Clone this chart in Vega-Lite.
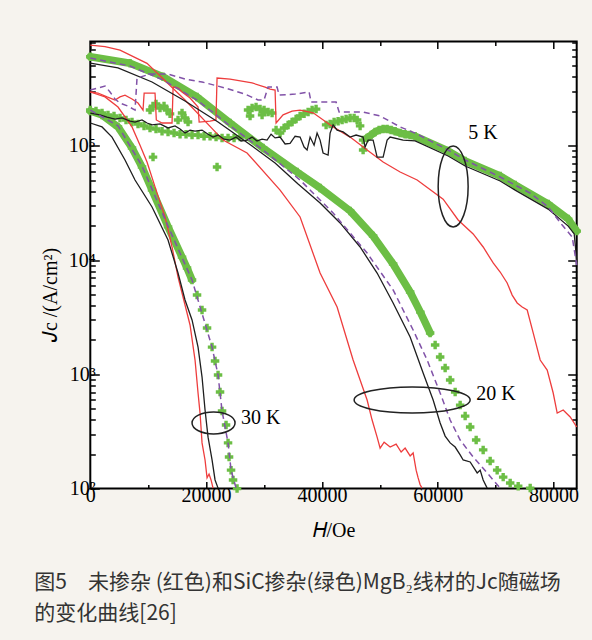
{
  "$schema": "https://vega.github.io/schema/vega-lite/v6.json",
  "width": 486.4,
  "height": 447.1,
  "autosize": {"type": "none"},
  "padding": {"left": 90.3, "top": 41.5, "right": 15.3, "bottom": 151.4},
  "background": "#f6f3ee",
  "config": {
    "view": {"fill": "white", "stroke": "black", "strokeWidth": 2}
  },
  "title": {
    "text": ["图5　未掺杂 (红色)和SiC掺杂(绿色)MgB₂线材的Jc随磁场", "的变化曲线[26]"],
    "orient": "bottom", "anchor": "start", "frame": "bounds",
    "font": "Noto Sans CJK SC", "fontSize": 21, "fontWeight": "normal", "color": "#333333",
    "lineHeight": 31, "offset": 31, "dx": -6
  },
  "datasets": {
    "lines": [
      {"c":"r","T":20,"H":0,"J":760000},{"c":"r","T":20,"H":2540,"J":735000},{"c":"r","T":20,"H":5131,"J":687000},{"c":"r","T":20,"H":9796,"J":526000},{"c":"r","T":20,"H":16361,"J":251000},{"c":"r","T":20,"H":22927,"J":112000},{"c":"r","T":20,"H":27073,"J":86300},{"c":"r","T":20,"H":32775,"J":40900},{"c":"r","T":20,"H":36230,"J":23800},{"c":"r","T":20,"H":39685,"J":7690},{"c":"r","T":20,"H":42623,"J":3880},{"c":"r","T":20,"H":45387,"J":1333},{"c":"r","T":20,"H":47805,"J":596},{"c":"r","T":20,"H":48669,"J":398},{"c":"r","T":20,"H":49533,"J":282},{"c":"r","T":20,"H":50051,"J":226},{"c":"r","T":20,"H":50742,"J":255},{"c":"r","T":20,"H":51779,"J":231},{"c":"r","T":20,"H":52816,"J":245},{"c":"r","T":20,"H":53680,"J":209},{"c":"r","T":20,"H":54371,"J":226},{"c":"r","T":20,"H":55235,"J":193},{"c":"r","T":20,"H":55753,"J":205},{"c":"r","T":20,"H":56271,"J":145},{"c":"r","T":20,"H":56617,"J":124},{"c":"r","T":20,"H":56963,"J":108},{"c":"r","T":20,"H":57308,"J":101},
      {"c":"r","T":5,"H":0,"J":295000},{"c":"r","T":5,"H":1330,"J":289000},{"c":"r","T":5,"H":2885,"J":267000},{"c":"r","T":5,"H":4267,"J":251000},{"c":"r","T":5,"H":5131,"J":267000},{"c":"r","T":5,"H":5995,"J":277000},{"c":"r","T":5,"H":7205,"J":256000},{"c":"r","T":5,"H":8241,"J":236000},{"c":"r","T":5,"H":9105,"J":205000},{"c":"r","T":5,"H":9300,"J":289000},{"c":"r","T":5,"H":11178,"J":289000},{"c":"r","T":5,"H":11400,"J":168000},{"c":"r","T":5,"H":12388,"J":158000},{"c":"r","T":5,"H":14115,"J":158000},{"c":"r","T":5,"H":14300,"J":326000},{"c":"r","T":5,"H":15152,"J":320000},{"c":"r","T":5,"H":15843,"J":295000},{"c":"r","T":5,"H":17225,"J":261000},{"c":"r","T":5,"H":18607,"J":218000},{"c":"r","T":5,"H":18800,"J":161000},{"c":"r","T":5,"H":20681,"J":164000},{"c":"r","T":5,"H":21700,"J":168000},{"c":"r","T":5,"H":21890,"J":391000},{"c":"r","T":5,"H":24136,"J":383000},{"c":"r","T":5,"H":27937,"J":354000},{"c":"r","T":5,"H":30183,"J":326000},{"c":"r","T":5,"H":31047,"J":313000},{"c":"r","T":5,"H":31911,"J":307000},{"c":"r","T":5,"H":32083,"J":158000},{"c":"r","T":5,"H":33293,"J":186000},{"c":"r","T":5,"H":34848,"J":201000},{"c":"r","T":5,"H":36230,"J":205000},{"c":"r","T":5,"H":38476,"J":194000},{"c":"r","T":5,"H":41931,"J":146000},{"c":"r","T":5,"H":44868,"J":119000},{"c":"r","T":5,"H":47805,"J":91600},{"c":"r","T":5,"H":50570,"J":71900},{"c":"r","T":5,"H":53507,"J":58900},{"c":"r","T":5,"H":56444,"J":50100},{"c":"r","T":5,"H":60936,"J":34100},{"c":"r","T":5,"H":63527,"J":22400},{"c":"r","T":5,"H":66119,"J":16900},{"c":"r","T":5,"H":67847,"J":13000},{"c":"r","T":5,"H":69575,"J":9420},{"c":"r","T":5,"H":70784,"J":7850},{"c":"r","T":5,"H":71993,"J":6290},{"c":"r","T":5,"H":72857,"J":4930},{"c":"r","T":5,"H":73721,"J":4210},{"c":"r","T":5,"H":74585,"J":3880},{"c":"r","T":5,"H":75449,"J":3650},{"c":"r","T":5,"H":76486,"J":2300},{"c":"r","T":5,"H":77695,"J":1333},{"c":"r","T":5,"H":78905,"J":1090},{"c":"r","T":5,"H":79941,"J":686},{"c":"r","T":5,"H":80632,"J":458},{"c":"r","T":5,"H":81669,"J":487},{"c":"r","T":5,"H":82878,"J":423},{"c":"r","T":5,"H":84000,"J":346},
      {"c":"r","T":30,"H":0,"J":295000},{"c":"r","T":30,"H":2540,"J":267000},{"c":"r","T":30,"H":4786,"J":218000},{"c":"r","T":30,"H":7205,"J":146000},{"c":"r","T":30,"H":8587,"J":101000},{"c":"r","T":30,"H":9796,"J":71900},{"c":"r","T":30,"H":11178,"J":43600},{"c":"r","T":30,"H":12906,"J":23800},{"c":"r","T":30,"H":14115,"J":13000},{"c":"r","T":30,"H":15152,"J":7100},{"c":"r","T":30,"H":16361,"J":4040},{"c":"r","T":30,"H":17225,"J":2700},{"c":"r","T":30,"H":18089,"J":1333},{"c":"r","T":30,"H":18607,"J":686},{"c":"r","T":30,"H":18953,"J":458},{"c":"r","T":30,"H":19298,"J":251},{"c":"r","T":30,"H":19817,"J":178},{"c":"r","T":30,"H":20163,"J":124},{"c":"r","T":30,"H":20508,"J":134},{"c":"r","T":30,"H":20854,"J":119},{"c":"r","T":30,"H":21199,"J":101},
      {"c":"k","T":20,"H":0,"J":529000},{"c":"k","T":20,"H":4786,"J":479000},{"c":"k","T":20,"H":10660,"J":361000},{"c":"k","T":20,"H":16361,"J":246000},{"c":"k","T":20,"H":22063,"J":161000},{"c":"k","T":20,"H":27937,"J":99300},{"c":"k","T":20,"H":31911,"J":70600},{"c":"k","T":20,"H":35884,"J":46200},{"c":"k","T":20,"H":39685,"J":31500},{"c":"k","T":20,"H":43140,"J":21100},{"c":"k","T":20,"H":46596,"J":13000},{"c":"k","T":20,"H":49533,"J":7690},{"c":"k","T":20,"H":52298,"J":4210},{"c":"k","T":20,"H":55235,"J":2120},{"c":"k","T":20,"H":57481,"J":1026},{"c":"k","T":20,"H":59209,"J":596},{"c":"k","T":20,"H":60418,"J":375},{"c":"k","T":20,"H":61282,"J":288},{"c":"k","T":20,"H":62146,"J":251},{"c":"k","T":20,"H":63010,"J":231},{"c":"k","T":20,"H":63874,"J":197},{"c":"k","T":20,"H":64392,"J":178},{"c":"k","T":20,"H":65601,"J":171},{"c":"k","T":20,"H":66811,"J":137},{"c":"k","T":20,"H":67329,"J":145},{"c":"k","T":20,"H":67847,"J":119},{"c":"k","T":20,"H":68538,"J":101},
      {"c":"k","T":30,"H":0,"J":158000},{"c":"k","T":30,"H":2022,"J":146000},{"c":"k","T":30,"H":3749,"J":119000},{"c":"k","T":30,"H":5995,"J":75000},{"c":"k","T":30,"H":7723,"J":50100},{"c":"k","T":30,"H":10660,"J":29100},{"c":"k","T":30,"H":13424,"J":14960},{"c":"k","T":30,"H":15152,"J":7690},{"c":"k","T":30,"H":16361,"J":4470},{"c":"k","T":30,"H":17570,"J":2990},{"c":"k","T":30,"H":18607,"J":1730},{"c":"k","T":30,"H":19298,"J":946},{"c":"k","T":30,"H":19817,"J":487},{"c":"k","T":30,"H":20336,"J":282},{"c":"k","T":30,"H":21027,"J":178},{"c":"k","T":30,"H":21545,"J":119},{"c":"k","T":30,"H":22063,"J":101},
      {"c":"k","T":5,"H":0,"J":193000},{"c":"k","T":5,"H":1676,"J":186000},{"c":"k","T":5,"H":2885,"J":178000},{"c":"k","T":5,"H":4267,"J":171000},{"c":"k","T":5,"H":5477,"J":175000},{"c":"k","T":5,"H":6868,"J":164000},{"c":"k","T":5,"H":7723,"J":161000},{"c":"k","T":5,"H":8932,"J":168000},{"c":"k","T":5,"H":9796,"J":158000},{"c":"k","T":5,"H":10660,"J":152000},{"c":"k","T":5,"H":12042,"J":155000},{"c":"k","T":5,"H":13424,"J":143000},{"c":"k","T":5,"H":14633,"J":149000},{"c":"k","T":5,"H":15497,"J":140000},{"c":"k","T":5,"H":16361,"J":129000},{"c":"k","T":5,"H":17225,"J":137000},{"c":"k","T":5,"H":18089,"J":134000},{"c":"k","T":5,"H":19298,"J":137000},{"c":"k","T":5,"H":20336,"J":126000},{"c":"k","T":5,"H":21199,"J":119000},{"c":"k","T":5,"H":22063,"J":124000},{"c":"k","T":5,"H":23099,"J":114000},{"c":"k","T":5,"H":24136,"J":112000},{"c":"k","T":5,"H":25172,"J":119000},{"c":"k","T":5,"H":26036,"J":110000},{"c":"k","T":5,"H":27073,"J":112000},{"c":"k","T":5,"H":27937,"J":119000},{"c":"k","T":5,"H":28800,"J":110000},{"c":"k","T":5,"H":29664,"J":114000},{"c":"k","T":5,"H":30528,"J":112000},{"c":"k","T":5,"H":31220,"J":126000},{"c":"k","T":5,"H":31911,"J":117000},{"c":"k","T":5,"H":32775,"J":119000},{"c":"k","T":5,"H":33638,"J":103500},{"c":"k","T":5,"H":34502,"J":105000},{"c":"k","T":5,"H":35366,"J":121000},{"c":"k","T":5,"H":36230,"J":119000},{"c":"k","T":5,"H":36921,"J":97300},{"c":"k","T":5,"H":37439,"J":91600},{"c":"k","T":5,"H":37957,"J":119000},{"c":"k","T":5,"H":38649,"J":101000},{"c":"k","T":5,"H":39167,"J":129000},{"c":"k","T":5,"H":39685,"J":112000},{"c":"k","T":5,"H":40203,"J":86300},{"c":"k","T":5,"H":41067,"J":82800},{"c":"k","T":5,"H":41413,"J":129000},{"c":"k","T":5,"H":41931,"J":152000},{"c":"k","T":5,"H":42622,"J":137000},{"c":"k","T":5,"H":43659,"J":132000},{"c":"k","T":5,"H":44868,"J":119000},{"c":"k","T":5,"H":45904,"J":124000},{"c":"k","T":5,"H":47114,"J":119000},{"c":"k","T":5,"H":47460,"J":97300},{"c":"k","T":5,"H":47978,"J":112000},{"c":"k","T":5,"H":48842,"J":112000},{"c":"k","T":5,"H":49533,"J":79500},{"c":"k","T":5,"H":50570,"J":79500},{"c":"k","T":5,"H":51261,"J":112000},{"c":"k","T":5,"H":51779,"J":119000},{"c":"k","T":5,"H":54025,"J":112000},{"c":"k","T":5,"H":56099,"J":110000},{"c":"k","T":5,"H":61801,"J":81300},{"c":"k","T":5,"H":64738,"J":66400},{"c":"k","T":5,"H":70784,"J":49100},{"c":"k","T":5,"H":73375,"J":40900},{"c":"k","T":5,"H":79078,"J":27900},{"c":"k","T":5,"H":82533,"J":19800},{"c":"k","T":5,"H":83570,"J":16900},{"c":"k","T":5,"H":84000,"J":10000},
      {"c":"p","T":20,"H":0,"J":585000},{"c":"p","T":20,"H":6868,"J":498000},{"c":"p","T":20,"H":12561,"J":376000},{"c":"p","T":20,"H":18434,"J":251000},{"c":"p","T":20,"H":24136,"J":149000},{"c":"p","T":20,"H":29837,"J":91600},{"c":"p","T":20,"H":36230,"J":50100},{"c":"p","T":20,"H":41931,"J":25800},{"c":"p","T":20,"H":47805,"J":11500},{"c":"p","T":20,"H":52298,"J":5470},{"c":"p","T":20,"H":55753,"J":2440},{"c":"p","T":20,"H":58172,"J":1333},{"c":"p","T":20,"H":60418,"J":686},{"c":"p","T":20,"H":62146,"J":398},{"c":"p","T":20,"H":63874,"J":266},{"c":"p","T":20,"H":66119,"J":189},{"c":"p","T":20,"H":68538,"J":137},{"c":"p","T":20,"H":70784,"J":101},
      {"c":"p","T":30,"H":0,"J":205000},{"c":"p","T":30,"H":4786,"J":149000},{"c":"p","T":30,"H":8932,"J":66400},{"c":"p","T":30,"H":13424,"J":19800},{"c":"p","T":30,"H":17570,"J":6680},{"c":"p","T":30,"H":21027,"J":1730},{"c":"p","T":30,"H":22063,"J":986},{"c":"p","T":30,"H":22754,"J":477},{"c":"p","T":30,"H":23790,"J":251},{"c":"p","T":30,"H":24309,"J":145},{"c":"p","T":30,"H":25172,"J":101},
      {"c":"p","T":5,"H":0,"J":307000},{"c":"p","T":5,"H":1330,"J":320000},{"c":"p","T":5,"H":2540,"J":333000},{"c":"p","T":5,"H":3404,"J":295000},{"c":"p","T":5,"H":4267,"J":256000},{"c":"p","T":5,"H":5131,"J":236000},{"c":"p","T":5,"H":6513,"J":222000},{"c":"p","T":5,"H":7723,"J":205000},{"c":"p","T":5,"H":8068,"J":391000},{"c":"p","T":5,"H":10315,"J":423600},{"c":"p","T":5,"H":13424,"J":423600},{"c":"p","T":5,"H":16361,"J":383000},{"c":"p","T":5,"H":19298,"J":361000},{"c":"p","T":5,"H":23272,"J":320000},{"c":"p","T":5,"H":26727,"J":283000},{"c":"p","T":5,"H":28973,"J":251000},{"c":"p","T":5,"H":30010,"J":251000},{"c":"p","T":5,"H":30701,"J":326000},{"c":"p","T":5,"H":32256,"J":326000},{"c":"p","T":5,"H":32602,"J":277000},{"c":"p","T":5,"H":35366,"J":283000},{"c":"p","T":5,"H":37785,"J":295000},{"c":"p","T":5,"H":38130,"J":241000},{"c":"p","T":5,"H":42449,"J":241000},{"c":"p","T":5,"H":42968,"J":197000},{"c":"p","T":5,"H":47114,"J":197000},{"c":"p","T":5,"H":50051,"J":182000},{"c":"p","T":5,"H":53507,"J":146000},{"c":"p","T":5,"H":56099,"J":129000},{"c":"p","T":5,"H":61801,"J":91600},{"c":"p","T":5,"H":64738,"J":75000},{"c":"p","T":5,"H":70784,"J":53200},{"c":"p","T":5,"H":75968,"J":38500},{"c":"p","T":5,"H":79078,"J":29100},{"c":"p","T":5,"H":81496,"J":20200},{"c":"p","T":5,"H":83224,"J":15900},{"c":"p","T":5,"H":84000,"J":9040}
    ],
    "green": [
      {"T":20,"H":0,"J":601000},{"T":20,"H":6868,"J":526000},{"T":20,"H":12561,"J":402000},{"T":20,"H":18434,"J":267000},{"T":20,"H":24136,"J":158000},{"T":20,"H":29837,"J":95500},{"T":20,"H":35711,"J":58900},{"T":20,"H":39685,"J":42700},{"T":20,"H":44868,"J":26900},{"T":20,"H":48842,"J":16200},{"T":20,"H":52298,"J":9230},{"T":20,"H":55235,"J":5250},{"T":20,"H":57000,"J":3500},{"T":20,"H":58690,"J":2300},{"T":20,"H":59554,"J":1803},{"T":20,"H":60418,"J":1416},{"T":20,"H":61282,"J":1135},{"T":20,"H":62146,"J":891},{"T":20,"H":63010,"J":700},{"T":20,"H":63874,"J":538},{"T":20,"H":64738,"J":431},{"T":20,"H":65601,"J":346},{"T":20,"H":66638,"J":266},{"T":20,"H":67847,"J":218},{"T":20,"H":69057,"J":174},{"T":20,"H":70266,"J":145},{"T":20,"H":71303,"J":126},{"T":20,"H":72512,"J":112},{"T":20,"H":73895,"J":105},{"T":20,"H":75968,"J":101},
      {"T":30,"H":0,"J":201000},{"T":30,"H":2022,"J":186000},{"T":30,"H":4786,"J":146000},{"T":30,"H":7205,"J":95500},{"T":30,"H":8932,"J":65200},{"T":30,"H":10660,"J":40900},{"T":30,"H":13424,"J":19500},{"T":30,"H":15843,"J":10600},{"T":30,"H":16706,"J":8510},{"T":30,"H":17570,"J":6680},{"T":30,"H":18434,"J":4940},{"T":30,"H":19298,"J":3650},{"T":30,"H":20163,"J":2540},{"T":30,"H":21027,"J":1730},{"T":30,"H":21545,"J":1306},{"T":30,"H":22063,"J":986},{"T":30,"H":22408,"J":700},{"T":30,"H":22754,"J":477},{"T":30,"H":23445,"J":360},{"T":30,"H":23790,"J":251},{"T":30,"H":23963,"J":189},{"T":30,"H":24309,"J":145},{"T":30,"H":24654,"J":119},{"T":30,"H":25345,"J":100},
      {"T":5,"H":0,"J":205000},{"T":5,"H":985,"J":201000},{"T":5,"H":2022,"J":193000},{"T":5,"H":3058,"J":186000},{"T":5,"H":4095,"J":182000},{"T":5,"H":5131,"J":175000},{"T":5,"H":6168,"J":168000},{"T":5,"H":7205,"J":161000},{"T":5,"H":8241,"J":155000},{"T":5,"H":9278,"J":149000},{"T":5,"H":10315,"J":143000},{"T":5,"H":11351,"J":140000},{"T":5,"H":12388,"J":134000},{"T":5,"H":13424,"J":132000},{"T":5,"H":14461,"J":129000},{"T":5,"H":15497,"J":126000},{"T":5,"H":16534,"J":126000},{"T":5,"H":17570,"J":124000},{"T":5,"H":18607,"J":124000},{"T":5,"H":19644,"J":121000},{"T":5,"H":20681,"J":121000},{"T":5,"H":21718,"J":119000},{"T":5,"H":22754,"J":117000},{"T":5,"H":23790,"J":117000},{"T":5,"H":24827,"J":117000},{"T":5,"H":25863,"J":119000},
      {"T":5,"H":10315,"J":205000},{"T":5,"H":10833,"J":222000},{"T":5,"H":11351,"J":232000},{"T":5,"H":12042,"J":214000},{"T":5,"H":12733,"J":222000},{"T":5,"H":13252,"J":205000},{"T":5,"H":13770,"J":190000},{"T":5,"H":15152,"J":168000},{"T":5,"H":15843,"J":193000},{"T":5,"H":16361,"J":175000},{"T":5,"H":16879,"J":161000},{"T":5,"H":10833,"J":79500},{"T":5,"H":21890,"J":65200},
      {"T":5,"H":27245,"J":205000},{"T":5,"H":27937,"J":214000},{"T":5,"H":28628,"J":218000},{"T":5,"H":29319,"J":209000},{"T":5,"H":30010,"J":205000},{"T":5,"H":30701,"J":197000},{"T":5,"H":31392,"J":193000},{"T":5,"H":27591,"J":182000},{"T":5,"H":29664,"J":186000},
      {"T":5,"H":32083,"J":137000},{"T":5,"H":32775,"J":129000},{"T":5,"H":33465,"J":143000},{"T":5,"H":34157,"J":152000},{"T":5,"H":34848,"J":161000},{"T":5,"H":35539,"J":171000},{"T":5,"H":36230,"J":182000},{"T":5,"H":36921,"J":190000},{"T":5,"H":37612,"J":197000},{"T":5,"H":38303,"J":205000},{"T":5,"H":38994,"J":209000},
      {"T":5,"H":40722,"J":152000},{"T":5,"H":41413,"J":155000},{"T":5,"H":42104,"J":161000},{"T":5,"H":42795,"J":164000},{"T":5,"H":43486,"J":168000},{"T":5,"H":44177,"J":171000},{"T":5,"H":44868,"J":175000},{"T":5,"H":45559,"J":175000},{"T":5,"H":46077,"J":168000},{"T":5,"H":46596,"J":149000},{"T":5,"H":47114,"J":112000},{"T":5,"H":47114,"J":91600},
      {"T":5,"H":47805,"J":117000},{"T":5,"H":48496,"J":124000},{"T":5,"H":49187,"J":132000},{"T":5,"H":49878,"J":137000},{"T":5,"H":50570,"J":140000},{"T":5,"H":51261,"J":140000},{"T":5,"H":51952,"J":137000},{"T":5,"H":52643,"J":134000},{"T":5,"H":53507,"J":129000},{"T":5,"H":54371,"J":126000},{"T":5,"H":55235,"J":124000},{"T":5,"H":56099,"J":121000},{"T":5,"H":61801,"J":89800},{"T":5,"H":64738,"J":73500},{"T":5,"H":70784,"J":54300},{"T":5,"H":73375,"J":45300},{"T":5,"H":79078,"J":30900},{"T":5,"H":82533,"J":22800},{"T":5,"H":84000,"J":17900}
    ],
    "ellipses": [
      {"T":5,"H":62664,"J":43970},{"T":20,"H":55579,"J":596},{"T":30,"H":21285,"J":375}
    ],
    "labels": [
      {"txt":"5 K","H":65256,"J":129000},{"txt":"20 K","H":66640,"J":673},{"txt":"30 K","H":26036,"J":415}
    ]
  },
  "encoding": {
    "x": {"field": "H", "type": "quantitative", "scale": {"domain": [0, 84000], "nice": false, "zero": false}, "axis": null},
    "y": {"field": "J", "type": "quantitative", "scale": {"type": "log", "domain": [100, 816000], "nice": false}, "axis": null}
  },
  "layer": [
    {
      "data": {"name": "green"},
      "transform": [{"filter": "(datum.T == 20 && datum.H <= 58690) || (datum.T == 30 && datum.H <= 17570) || (datum.T == 5 && datum.H >= 47805)"}],
      "mark": {"type": "line", "color": "#6cbe45", "strokeWidth": 7.5, "strokeCap": "round", "strokeJoin": "round", "clip": false},
      "encoding": {"detail": {"field": "T", "type": "nominal"}}
    },
    {
      "data": {"name": "green"},
      "mark": {"type": "point", "shape": "cross", "filled": true, "size": 72, "color": "#6cbe45", "opacity": 1, "clip": false}
    },
    {
      "data": {"name": "lines"},
      "transform": [{"filter": "datum.c == 'r'"}],
      "mark": {"type": "line", "color": "#ee3d3d", "strokeWidth": 1.3},
      "encoding": {
        "detail": {"field": "T", "type": "nominal"},
        "x": {"field": "H", "type": "quantitative", "scale": {"domain": [0, 84000], "nice": false, "zero": false},
          "axis": {"orient": "bottom", "values": [0,10000,20000,30000,40000,50000,60000,70000,80000],
            "labelExpr": "datum.value % 20000 == 0 ? format(datum.value, 'd') : ''",
            "grid": false, "domain": false, "ticks": true,
            "tickSize": {"condition": {"test": "datum.value % 20000 == 0", "value": -7}, "value": -4},
            "tickColor": "black", "tickWidth": 1.5,
            "labelFont": "Liberation Serif", "labelFontSize": 20, "labelColor": "black", "labelPadding": 4, "labelFlush": false, "labelOverlap": false,
            "title": "𝐻/Oe", "titleFont": "Liberation Serif", "titleFontSize": 20, "titleFontWeight": "normal", "titleColor": "black", "titlePadding": 12}},
        "y": {"field": "J", "type": "quantitative", "scale": {"type": "log", "domain": [100, 816000], "nice": false},
          "axis": {"orient": "left", "values": [100,200,300,400,500,600,700,800,900,1000,2000,3000,4000,5000,6000,7000,8000,9000,10000,20000,30000,40000,50000,60000,70000,80000,90000,100000,200000,300000,400000,500000,600000,700000,800000],
            "labelExpr": "datum.value == 100 ? '10²' : datum.value == 1000 ? '10³' : datum.value == 10000 ? '10⁴' : datum.value == 100000 ? '10⁵' : ''",
            "grid": false, "domain": false, "ticks": true,
            "tickSize": {"condition": {"test": "indexof([100,1000,10000,100000], datum.value) >= 0", "value": -9}, "value": -5},
            "tickColor": "black", "tickWidth": 1.5,
            "labelFont": "Liberation Serif", "labelFontSize": 20, "labelColor": "black", "labelPadding": 4, "labelFlush": false, "labelOverlap": false,
            "title": "𝐽c /(A/cm²)", "titleFont": "Liberation Serif", "titleFontSize": 20, "titleFontWeight": "normal", "titleColor": "black", "titlePadding": 8, "titleY": 253}}
      }
    },
    {
      "data": {"name": "lines"},
      "transform": [{"filter": "datum.c == 'k'"}],
      "mark": {"type": "line", "color": "#1e1e1e", "strokeWidth": 1.3},
      "encoding": {
        "detail": {"field": "T", "type": "nominal"},
        "x": {"field": "H", "type": "quantitative", "scale": {"domain": [0, 84000], "nice": false, "zero": false},
          "axis": {"orient": "top", "values": [0,10000,20000,30000,40000,50000,60000,70000,80000], "labels": false, "domain": false, "grid": false,
            "tickSize": {"condition": {"test": "datum.value % 20000 == 0", "value": -7}, "value": -4}, "tickColor": "black", "tickWidth": 1.5, "title": null}},
        "y": {"field": "J", "type": "quantitative", "scale": {"type": "log", "domain": [100, 816000], "nice": false},
          "axis": {"orient": "right", "values": [100,200,300,400,500,600,700,800,900,1000,2000,3000,4000,5000,6000,7000,8000,9000,10000,20000,30000,40000,50000,60000,70000,80000,90000,100000,200000,300000,400000,500000,600000,700000,800000], "labels": false, "domain": false, "grid": false,
            "tickSize": {"condition": {"test": "indexof([100,1000,10000,100000], datum.value) >= 0", "value": -9}, "value": -5}, "tickColor": "black", "tickWidth": 1.5, "title": null}}
      }
    },
    {
      "data": {"name": "lines"},
      "transform": [{"filter": "datum.c == 'p'"}],
      "mark": {"type": "line", "color": "#8152a8", "strokeWidth": 1.5, "strokeDash": [6, 4]},
      "encoding": {"detail": {"field": "T", "type": "nominal"}}
    },
    {
      "data": {"name": "ellipses"},
      "transform": [{"filter": "datum.T == 5"}],
      "mark": {"type": "point", "shape": "M -0.37 0 A 0.37 1 0 1 0 0.37 0 A 0.37 1 0 1 0 -0.37 0 Z", "size": 6561, "filled": false, "stroke": "#222222", "strokeWidth": 1.5, "opacity": 1}
    },
    {
      "data": {"name": "ellipses"},
      "transform": [{"filter": "datum.T == 20"}],
      "mark": {"type": "point", "shape": "M -1 0 A 1 0.224 0 1 0 1 0 A 1 0.224 0 1 0 -1 0 Z", "size": 13456, "filled": false, "stroke": "#222222", "strokeWidth": 1.5, "opacity": 1}
    },
    {
      "data": {"name": "ellipses"},
      "transform": [{"filter": "datum.T == 30"}],
      "mark": {"type": "point", "shape": "M -1 0 A 1 0.512 0 1 0 1 0 A 1 0.512 0 1 0 -1 0 Z", "size": 1849, "filled": false, "stroke": "#222222", "strokeWidth": 1.5, "opacity": 1}
    },
    {
      "data": {"name": "labels"},
      "mark": {"type": "text", "font": "Liberation Serif", "fontSize": 20, "align": "left", "baseline": "middle", "color": "black"},
      "encoding": {"text": {"field": "txt", "type": "nominal"}}
    }
  ],
  "resolve": {"axis": {"x": "independent", "y": "independent"}}
}
